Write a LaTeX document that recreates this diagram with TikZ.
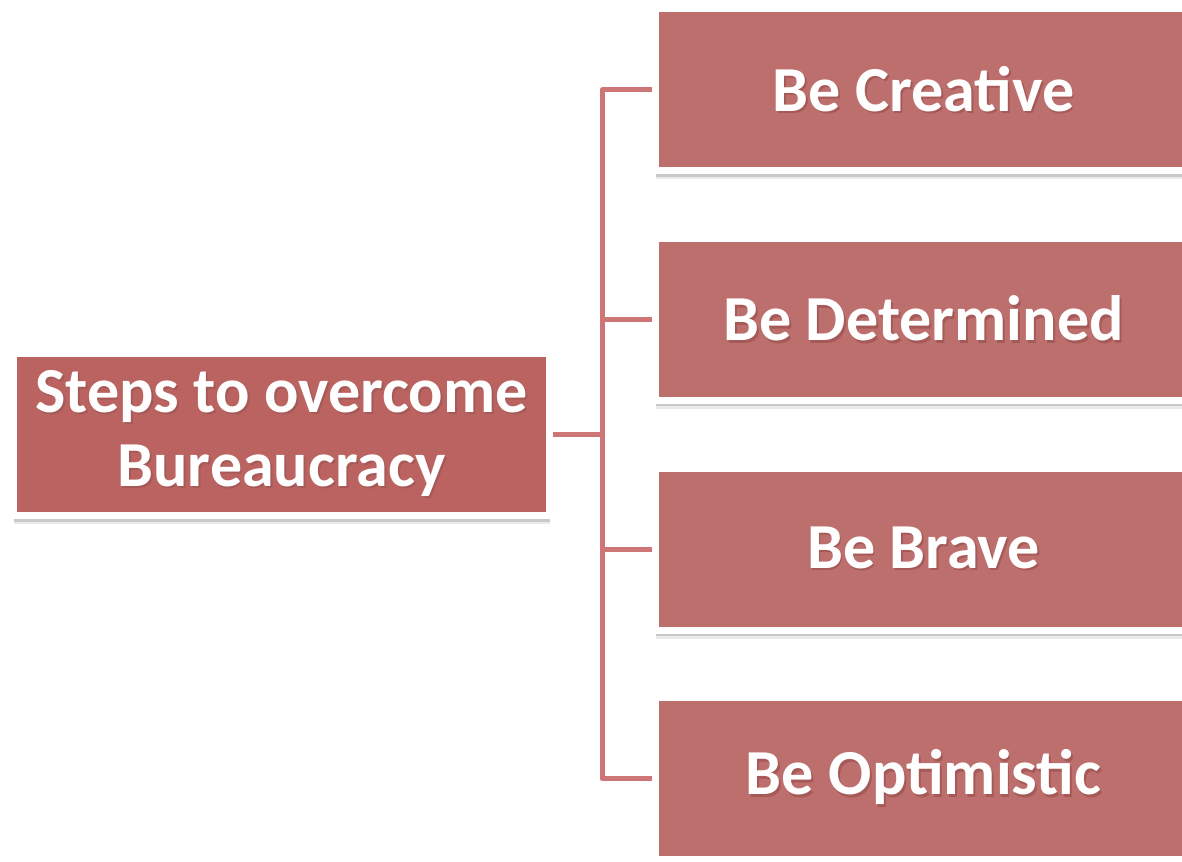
\documentclass[tikz,border=0pt]{standalone}
\usepackage{fontspec}
\setmainfont{Carlito}
\usepackage{tikz}
\usetikzlibrary{positioning,shadows}

\definecolor{rootred}{RGB}{187,99,97}
\definecolor{leafred}{RGB}{189,111,109}
\definecolor{linkred}{RGB}{206,118,119}
\definecolor{textshade}{RGB}{166,90,88}

% white text with a soft dark copy just below it
\newcommand{\shadowed}[1]{\leavevmode\rlap{\kern0.03em\raisebox{-0.04em}{\color{textshade}#1}}#1}

\tikzset{
  box/.style={draw=white, line width=0.14cm, minimum width=10.72cm,
    minimum height=3.24cm, text=white, align=center,
    font=\fontsize{36.5}{42}\selectfont\bfseries,
    drop shadow={shadow xshift=0cm, shadow yshift=-0.12cm,
      opacity=0.18, fill=black!80},
    drop shadow={shadow xshift=0cm, shadow yshift=-0.17cm,
      opacity=0.1, fill=black!80}},
  rootbox/.style={box, fill=rootred},
  leafbox/.style={box, fill=leafred},
  link/.style={draw=linkred, line width=0.1cm, line join=round},
}

\begin{document}
\begin{tikzpicture}
  \useasboundingbox (0,0) rectangle (23.64,-17.24);

  % Define nodes
  \node[rootbox] (root) at (5.63,-8.69) {\shadowed{Steps to overcome}\\\shadowed{Bureaucracy}};
  \node[leafbox, right=1.98cm of root, yshift=2.3cm] (det) {\shadowed{Be Determined}};
  \node[leafbox, above=1.21cm of det] (cre) {\shadowed{Be Creative}};
  \node[leafbox, below=1.21cm of det] (bra) {\shadowed{Be Brave}};
  \node[leafbox, below=1.21cm of bra] (opt) {\shadowed{Be Optimistic}};

  % Connect the nodes
  \coordinate (fork) at ([xshift=0.98cm]root.east);
  \draw[link] (root.east) -- (fork);
  \draw[link] (cre.west) -| (fork) |- (opt.west);
  \draw[link] (det.west) -- (det.west -| fork);
  \draw[link] (bra.west) -- (bra.west -| fork);
\end{tikzpicture}
\end{document}
